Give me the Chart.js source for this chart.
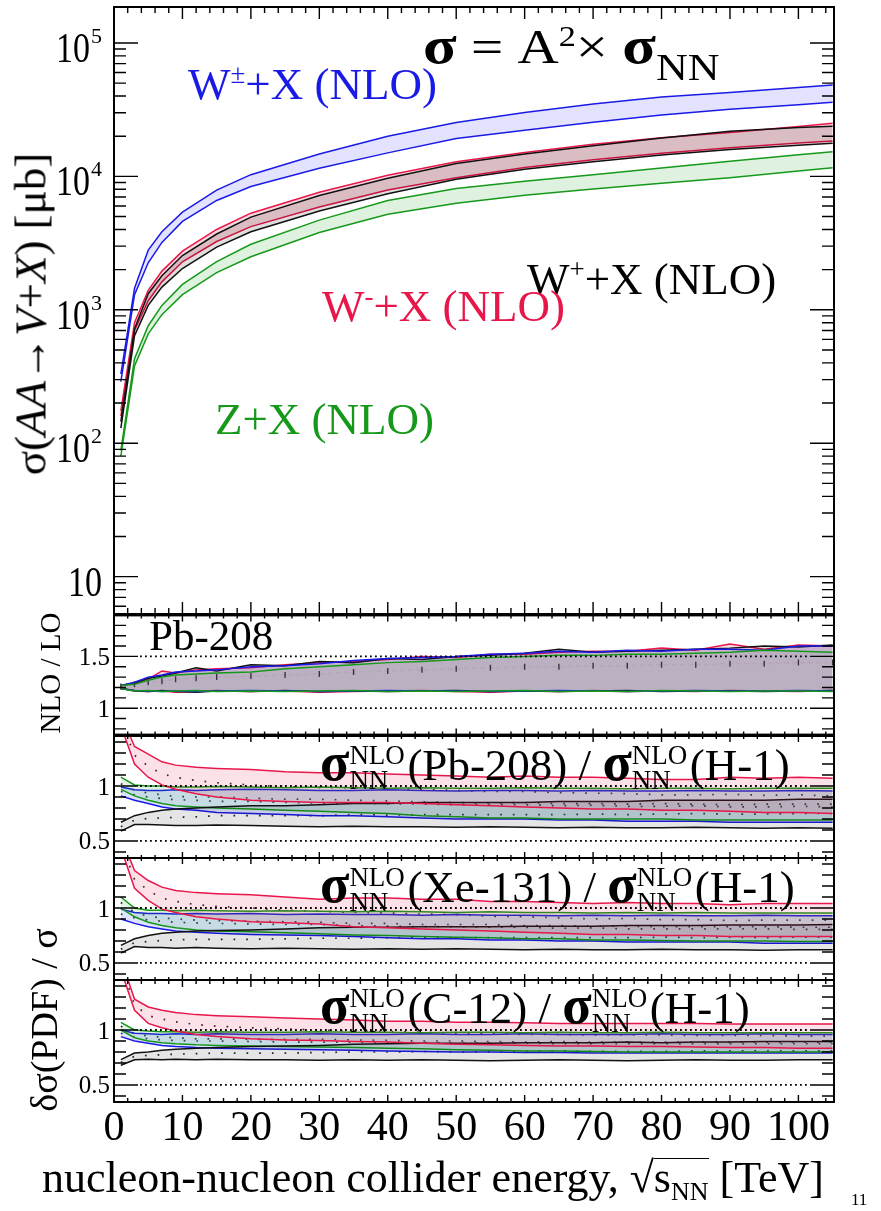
<!DOCTYPE html>
<html>
<head>
<meta charset="utf-8">
<script src="https://cdn.jsdelivr.net/npm/chart.js@4.4.1/dist/chart.umd.min.js"></script>
<style>
body{margin:0;background:#fff}
#wrap{position:relative;width:881px;height:1211px;overflow:hidden;background:#fff}
canvas{position:absolute;left:0}
.t{position:absolute;white-space:nowrap;line-height:1;font-family:'Liberation Serif','Times New Roman',serif;color:#000}
.sp{font-size:0.6em;position:relative;top:-0.6em}
.g{font-weight:bold;font-size:54px}
.rot{position:absolute;white-space:nowrap;line-height:1;font-family:'Liberation Serif',serif;transform:translate(-50%,-50%) rotate(-90deg)}
.ss{display:inline-block;position:relative;width:58px;height:10px}
.ss .u,.ss .d{position:absolute;left:0;font-size:27px;line-height:1}
.ss .u{bottom:11px}
.ss .d{bottom:-14px}
.ov{display:inline-block;border-top:1.6px solid #000;line-height:0.85}
</style>
</head>
<body>
<div id="wrap">
  <canvas id="cTop" width="881" height="618" style="top:0"></canvas>
  <canvas id="cNlo" width="881" height="130" style="top:610px"></canvas>
  <canvas id="cPb" width="881" height="130" style="top:732px"></canvas>
  <canvas id="cXe" width="881" height="130" style="top:854px"></canvas>
  <canvas id="cC" width="881" height="184" style="top:976px"></canvas>

  <div class="t" style="left:423px;top:20px;font-size:48px;transform:scaleX(1.19);transform-origin:0 0"><span class="g" style="font-size:52px">σ</span> = A<span class="sp">2</span>× <span class="g" style="font-size:52px">σ</span><span style="font-size:37px;position:relative;top:17px">NN</span></div>
  <div class="t" style="left:188px;top:62px;font-size:45px;color:#1a1ae6">W<span class="sp">±</span>+X (NLO)</div>
  <div class="t" style="left:527px;top:257px;font-size:45px;color:#000">W<span class="sp">+</span>+X (NLO)</div>
  <div class="t" style="left:322px;top:284px;font-size:45px;color:#e8174a">W<span class="sp">-</span>+X (NLO)</div>
  <div class="t" style="left:215px;top:397px;font-size:45px;color:#16991a">Z+X (NLO)</div>

  <div class="t" style="left:149px;top:614px;font-size:43px">Pb-208</div>
  <div class="t" style="left:320px;top:735px;font-size:45px"><span class="g">σ</span><span class="ss"><span class="u">NLO</span><span class="d">NN</span></span>(Pb-208) / <span class="g">σ</span><span class="ss"><span class="u">NLO</span><span class="d">NN</span></span>(H-1)</div>
  <div class="t" style="left:320px;top:857px;font-size:45px"><span class="g">σ</span><span class="ss"><span class="u">NLO</span><span class="d">NN</span></span>(Xe-131) / <span class="g">σ</span><span class="ss"><span class="u">NLO</span><span class="d">NN</span></span>(H-1)</div>
  <div class="t" style="left:320px;top:978px;font-size:45px"><span class="g">σ</span><span class="ss"><span class="u">NLO</span><span class="d">NN</span></span>(C-12) / <span class="g">σ</span><span class="ss"><span class="u">NLO</span><span class="d">NN</span></span>(H-1)</div>

  <div class="rot" style="left:31px;top:314px;font-size:45px">σ(<i>AA</i>→<i>V</i>+<i>X</i>) [μb]</div>
  <div class="rot" style="left:50px;top:673px;font-size:29px">NLO / LO</div>
  <div class="rot" style="left:44px;top:1020px;font-size:38px">δσ(PDF) / σ</div>

  <div class="t" style="left:42px;top:1156px;font-size:44px">nucleon-nucleon collider energy, √<span class="ov">s<span style="font-size:26px;position:relative;top:8px">NN</span></span> [TeV]</div>
  <div class="t" style="left:851px;top:1191px;font-size:17px">11</div>
</div>

<script>
// x grids (TeV)
const energyTop = [1, 3, 5, 7, 10, 15, 20, 30, 40, 50, 60, 70, 80, 90, 100, 105];
const energyRatio = [1, 3, 5, 7, 9, 12, 15, 20, 25, 30, 35, 40, 45, 50, 55, 60, 65, 70, 75, 80, 85, 90, 95, 100, 105];

// top panel: sigma(AA -> V+X) [ub], band edges
const wpmUp = [330, 1450, 2800, 3850, 5400, 7900, 10300, 14700, 20000, 25300, 30100, 34900, 39400, 42600, 46400, 48400];
const wpmLo = [290, 1300, 2250, 3200, 4600, 6600, 8400, 11500, 15000, 19200, 22200, 25500, 28900, 31900, 34500, 35900];
const wmUp = [175, 800, 1400, 1950, 2750, 4000, 5300, 7600, 10200, 12850, 15100, 17400, 19500, 21300, 23700, 25000];
const wmLo = [160, 700, 1170, 1620, 2290, 3250, 4200, 5900, 7900, 9770, 11650, 13300, 14900, 16400, 17800, 18400];
const wpUp = [145, 720, 1320, 1800, 2550, 3700, 4950, 7200, 9700, 12500, 14700, 17000, 19400, 21800, 23200, 23800];
const wpLo = [130, 640, 1080, 1480, 2040, 2950, 3850, 5500, 7400, 9500, 11300, 12900, 14450, 15900, 17100, 17700];
const zUp = [88, 430, 760, 1080, 1550, 2300, 3100, 4700, 6600, 8100, 9200, 10300, 11550, 13000, 14500, 15300];
const zLo = [80, 380, 660, 920, 1300, 1900, 2500, 3800, 5200, 6300, 7230, 8040, 8870, 9780, 10970, 11600];

// NLO / LO, Pb-208
const nloBlueUp = [1.22, 1.25, 1.30, 1.32, 1.35, 1.36, 1.37, 1.40, 1.41, 1.43, 1.46, 1.48, 1.49, 1.50, 1.52, 1.53, 1.55, 1.54, 1.56, 1.55, 1.57, 1.57, 1.56, 1.60, 1.60];
const nloBlueLo = [1.19, 1.17, 1.165, 1.16, 1.165, 1.16, 1.165, 1.17, 1.165, 1.16, 1.165, 1.17, 1.165, 1.165, 1.16, 1.165, 1.17, 1.165, 1.16, 1.165, 1.17, 1.165, 1.165, 1.17, 1.165];
const nloRedUp = [1.22, 1.24, 1.28, 1.36, 1.34, 1.37, 1.38, 1.39, 1.42, 1.44, 1.45, 1.47, 1.50, 1.49, 1.52, 1.52, 1.54, 1.55, 1.55, 1.58, 1.56, 1.62, 1.57, 1.61, 1.60];
const nloRedLo = [1.19, 1.17, 1.16, 1.165, 1.155, 1.16, 1.17, 1.16, 1.165, 1.155, 1.16, 1.165, 1.17, 1.16, 1.155, 1.165, 1.16, 1.17, 1.16, 1.165, 1.16, 1.17, 1.165, 1.16, 1.17];
const nloBlackUp = [1.22, 1.24, 1.29, 1.31, 1.34, 1.39, 1.36, 1.42, 1.41, 1.45, 1.44, 1.48, 1.47, 1.50, 1.51, 1.53, 1.57, 1.54, 1.55, 1.56, 1.57, 1.58, 1.60, 1.59, 1.61];
const nloBlackLo = [1.19, 1.165, 1.16, 1.17, 1.16, 1.155, 1.165, 1.16, 1.17, 1.16, 1.165, 1.16, 1.165, 1.17, 1.16, 1.165, 1.16, 1.165, 1.17, 1.16, 1.165, 1.165, 1.16, 1.165, 1.17];
const nloGreenUp = [1.22, 1.23, 1.27, 1.30, 1.32, 1.33, 1.34, 1.35, 1.38, 1.40, 1.42, 1.44, 1.45, 1.47, 1.49, 1.50, 1.51, 1.51, 1.52, 1.52, 1.53, 1.54, 1.56, 1.55, 1.54];
const nloGreenLo = [1.19, 1.165, 1.17, 1.16, 1.165, 1.17, 1.16, 1.165, 1.16, 1.165, 1.17, 1.16, 1.165, 1.16, 1.165, 1.17, 1.16, 1.165, 1.16, 1.17, 1.165, 1.16, 1.165, 1.165, 1.16];
const nloCentral = [1.21, 1.23, 1.25, 1.26, 1.28, 1.29, 1.30, 1.31, 1.32, 1.33, 1.35, 1.36, 1.37, 1.38, 1.39, 1.40, 1.40, 1.41, 1.41, 1.42, 1.42, 1.43, 1.43, 1.44, 1.44];

// sigma_NN(Pb-208) / sigma_NN(H-1): band edges and central values
const pbRedUp = [1.65, 1.36, 1.29, 1.22, 1.19, 1.17, 1.16, 1.15, 1.13, 1.12, 1.12, 1.11, 1.10, 1.09, 1.08, 1.09, 1.08, 1.08, 1.07, 1.06, 1.06, 1.08, 1.07, 1.08, 1.07];
const pbRedLo = [1.55, 1.20, 1.08, 1.01, 0.97, 0.93, 0.90, 0.87, 0.86, 0.85, 0.85, 0.85, 0.84, 0.83, 0.82, 0.81, 0.80, 0.79, 0.79, 0.78, 0.78, 0.77, 0.76, 0.76, 0.75];
const pbBlueUp = [0.99, 0.965, 0.96, 0.96, 0.965, 0.96, 0.965, 0.97, 0.965, 0.96, 0.96, 0.965, 0.96, 0.955, 0.96, 0.96, 0.955, 0.96, 0.955, 0.955, 0.96, 0.955, 0.955, 0.96, 0.955];
const pbBlueLo = [0.91, 0.87, 0.84, 0.81, 0.79, 0.78, 0.76, 0.75, 0.74, 0.73, 0.73, 0.72, 0.71, 0.70, 0.70, 0.70, 0.69, 0.69, 0.68, 0.68, 0.68, 0.67, 0.67, 0.67, 0.67];
const pbGreenUp = [1.08, 1.01, 1.00, 1.00, 0.99, 0.99, 0.995, 0.99, 0.985, 0.99, 0.985, 0.98, 0.985, 0.98, 0.98, 0.985, 0.98, 0.98, 0.975, 0.98, 0.98, 0.975, 0.98, 0.98, 0.98];
const pbGreenLo = [0.97, 0.91, 0.87, 0.84, 0.82, 0.81, 0.80, 0.79, 0.78, 0.77, 0.76, 0.75, 0.73, 0.72, 0.71, 0.71, 0.70, 0.70, 0.70, 0.70, 0.69, 0.69, 0.69, 0.69, 0.69];
const pbBlackUp = [0.67, 0.73, 0.76, 0.78, 0.79, 0.80, 0.81, 0.82, 0.82, 0.83, 0.84, 0.84, 0.85, 0.85, 0.85, 0.85, 0.86, 0.86, 0.86, 0.87, 0.87, 0.87, 0.87, 0.88, 0.88];
const pbBlackLo = [0.59, 0.65, 0.65, 0.645, 0.64, 0.64, 0.645, 0.64, 0.635, 0.63, 0.635, 0.63, 0.63, 0.625, 0.63, 0.625, 0.62, 0.625, 0.62, 0.62, 0.625, 0.62, 0.615, 0.62, 0.615];
const pbRedMid = [1.6, 1.28, 1.18, 1.11, 1.08, 1.05, 1.03, 1.01, 0.995, 0.985, 0.985, 0.98, 0.97, 0.96, 0.95, 0.95, 0.94, 0.935, 0.93, 0.92, 0.92, 0.925, 0.915, 0.92, 0.91];
const pbBlueMid = [0.95, 0.92, 0.90, 0.885, 0.875, 0.87, 0.86, 0.86, 0.85, 0.845, 0.845, 0.84, 0.835, 0.83, 0.83, 0.83, 0.82, 0.825, 0.815, 0.815, 0.82, 0.81, 0.81, 0.815, 0.81];
const pbGreenMid = [1.02, 0.96, 0.935, 0.92, 0.905, 0.90, 0.90, 0.89, 0.88, 0.88, 0.87, 0.865, 0.855, 0.85, 0.845, 0.85, 0.84, 0.84, 0.835, 0.84, 0.835, 0.83, 0.835, 0.835, 0.835];
const pbBlackMid = [0.63, 0.69, 0.705, 0.71, 0.715, 0.72, 0.73, 0.73, 0.73, 0.73, 0.74, 0.735, 0.74, 0.74, 0.74, 0.74, 0.74, 0.745, 0.74, 0.745, 0.75, 0.745, 0.745, 0.75, 0.75];

// sigma_NN(Xe-131) / sigma_NN(H-1)
const xeRedUp = [1.65, 1.34, 1.25, 1.19, 1.16, 1.14, 1.13, 1.12, 1.10, 1.08, 1.09, 1.09, 1.08, 1.08, 1.06, 1.06, 1.05, 1.04, 1.05, 1.04, 1.04, 1.03, 1.04, 1.04, 1.04];
const xeRedLo = [1.55, 1.18, 1.07, 0.99, 0.96, 0.92, 0.90, 0.875, 0.865, 0.855, 0.83, 0.82, 0.81, 0.80, 0.79, 0.78, 0.77, 0.76, 0.76, 0.75, 0.75, 0.74, 0.74, 0.74, 0.74];
const xeBlueUp = [0.99, 0.96, 0.95, 0.95, 0.945, 0.95, 0.945, 0.95, 0.94, 0.945, 0.94, 0.94, 0.935, 0.94, 0.935, 0.935, 0.93, 0.935, 0.93, 0.935, 0.93, 0.93, 0.935, 0.93, 0.93];
const xeBlueLo = [0.90, 0.86, 0.83, 0.81, 0.79, 0.78, 0.77, 0.76, 0.755, 0.75, 0.74, 0.73, 0.72, 0.72, 0.71, 0.71, 0.70, 0.70, 0.69, 0.69, 0.69, 0.69, 0.68, 0.68, 0.68];
const xeGreenUp = [1.10, 1.00, 0.98, 0.98, 0.975, 0.98, 0.975, 0.97, 0.975, 0.97, 0.965, 0.97, 0.965, 0.96, 0.965, 0.96, 0.96, 0.955, 0.96, 0.955, 0.96, 0.955, 0.955, 0.955, 0.955];
const xeGreenLo = [1.00, 0.92, 0.87, 0.84, 0.82, 0.80, 0.79, 0.785, 0.775, 0.765, 0.755, 0.75, 0.74, 0.735, 0.73, 0.72, 0.72, 0.71, 0.71, 0.705, 0.70, 0.70, 0.70, 0.695, 0.695];
const xeBlackUp = [0.66, 0.72, 0.75, 0.77, 0.78, 0.79, 0.795, 0.80, 0.81, 0.82, 0.825, 0.825, 0.83, 0.83, 0.83, 0.835, 0.835, 0.835, 0.84, 0.84, 0.84, 0.845, 0.845, 0.845, 0.85];
const xeBlackLo = [0.59, 0.65, 0.64, 0.64, 0.635, 0.64, 0.635, 0.63, 0.635, 0.63, 0.625, 0.63, 0.625, 0.63, 0.625, 0.62, 0.625, 0.62, 0.62, 0.625, 0.62, 0.62, 0.615, 0.62, 0.62];
const xeRedMid = [1.6, 1.26, 1.16, 1.09, 1.06, 1.03, 1.015, 1.0, 0.98, 0.97, 0.96, 0.955, 0.945, 0.94, 0.925, 0.92, 0.91, 0.90, 0.905, 0.895, 0.895, 0.885, 0.89, 0.89, 0.89];
const xeBlueMid = [0.945, 0.91, 0.89, 0.88, 0.87, 0.865, 0.86, 0.855, 0.85, 0.85, 0.84, 0.835, 0.83, 0.83, 0.825, 0.825, 0.815, 0.82, 0.81, 0.81, 0.81, 0.81, 0.81, 0.805, 0.805];
const xeGreenMid = [1.05, 0.96, 0.925, 0.91, 0.90, 0.89, 0.885, 0.88, 0.875, 0.87, 0.86, 0.86, 0.85, 0.85, 0.85, 0.84, 0.84, 0.835, 0.835, 0.83, 0.83, 0.83, 0.83, 0.825, 0.825];
const xeBlackMid = [0.625, 0.685, 0.695, 0.705, 0.71, 0.715, 0.715, 0.715, 0.72, 0.725, 0.725, 0.73, 0.73, 0.73, 0.73, 0.73, 0.73, 0.73, 0.73, 0.735, 0.73, 0.735, 0.73, 0.735, 0.735];

// sigma_NN(C-12) / sigma_NN(H-1)
const cRedUp = [1.65, 1.28, 1.21, 1.18, 1.16, 1.14, 1.13, 1.12, 1.11, 1.10, 1.09, 1.08, 1.08, 1.07, 1.07, 1.065, 1.06, 1.06, 1.06, 1.06, 1.06, 1.055, 1.055, 1.055, 1.055];
const cRedLo = [1.55, 1.18, 1.06, 1.02, 0.99, 0.96, 0.94, 0.92, 0.91, 0.905, 0.895, 0.89, 0.88, 0.87, 0.865, 0.86, 0.855, 0.855, 0.85, 0.85, 0.845, 0.84, 0.84, 0.835, 0.835];
const cBlueUp = [1.0, 0.97, 0.965, 0.96, 0.965, 0.96, 0.965, 0.96, 0.96, 0.965, 0.96, 0.96, 0.965, 0.96, 0.96, 0.965, 0.96, 0.96, 0.96, 0.965, 0.96, 0.96, 0.965, 0.96, 0.96];
const cBlueLo = [0.94, 0.90, 0.88, 0.86, 0.85, 0.84, 0.835, 0.83, 0.825, 0.82, 0.815, 0.81, 0.805, 0.80, 0.80, 0.795, 0.795, 0.79, 0.79, 0.79, 0.79, 0.79, 0.79, 0.79, 0.79];
const cGreenUp = [1.07, 1.00, 0.99, 0.985, 0.985, 0.98, 0.985, 0.98, 0.98, 0.985, 0.98, 0.98, 0.975, 0.98, 0.98, 0.975, 0.98, 0.975, 0.975, 0.98, 0.975, 0.975, 0.975, 0.975, 0.975];
const cGreenLo = [1.00, 0.93, 0.90, 0.885, 0.875, 0.865, 0.86, 0.855, 0.85, 0.845, 0.84, 0.835, 0.83, 0.82, 0.815, 0.81, 0.81, 0.805, 0.80, 0.80, 0.80, 0.80, 0.80, 0.80, 0.80];
const cBlackUp = [0.73, 0.79, 0.80, 0.815, 0.825, 0.835, 0.84, 0.85, 0.855, 0.86, 0.87, 0.875, 0.88, 0.88, 0.88, 0.885, 0.885, 0.885, 0.89, 0.885, 0.89, 0.89, 0.895, 0.895, 0.895];
const cBlackLo = [0.68, 0.73, 0.735, 0.73, 0.735, 0.73, 0.735, 0.73, 0.73, 0.725, 0.73, 0.725, 0.73, 0.725, 0.72, 0.725, 0.73, 0.725, 0.72, 0.725, 0.73, 0.725, 0.725, 0.73, 0.73];
const cRedMid = [1.6, 1.23, 1.13, 1.10, 1.075, 1.05, 1.035, 1.02, 1.01, 1.0, 0.99, 0.985, 0.98, 0.97, 0.965, 0.96, 0.96, 0.955, 0.955, 0.955, 0.95, 0.95, 0.95, 0.945, 0.945];
const cBlueMid = [0.97, 0.935, 0.92, 0.91, 0.905, 0.90, 0.90, 0.895, 0.89, 0.89, 0.89, 0.885, 0.885, 0.88, 0.88, 0.88, 0.875, 0.875, 0.875, 0.875, 0.875, 0.875, 0.875, 0.875, 0.875];
const cGreenMid = [1.035, 0.965, 0.945, 0.935, 0.93, 0.92, 0.92, 0.915, 0.915, 0.915, 0.91, 0.905, 0.90, 0.90, 0.895, 0.89, 0.895, 0.89, 0.89, 0.89, 0.89, 0.89, 0.89, 0.89, 0.89];
const cBlackMid = [0.705, 0.76, 0.77, 0.775, 0.78, 0.785, 0.79, 0.79, 0.79, 0.795, 0.80, 0.80, 0.805, 0.80, 0.80, 0.805, 0.81, 0.805, 0.805, 0.805, 0.81, 0.81, 0.81, 0.81, 0.81];

const BLUE = "#1a1ae6", RED = "#e8174a", BLACK = "#111111", GREEN = "#16991a";
const FILL = {
  blue: "rgba(40,40,255,0.13)",
  red: "rgba(232,23,74,0.17)",
  black: "rgba(0,0,0,0.13)",
  green: "rgba(22,160,26,0.14)"
};
const SERIF = "'Liberation Serif', 'Times New Roman', serif";

function pts(xs, ys){
  return xs.map((e, i) => ({x: e, y: ys[i]}));
}

function band(xs, lo, up, color, fill){
  return [
    {data: pts(xs, lo), borderColor: color, borderWidth: 1.5, pointRadius: 0, fill: false},
    {data: pts(xs, up), borderColor: color, borderWidth: 1.5, pointRadius: 0, fill: "-1", backgroundColor: fill}
  ];
}

function dotted(xs, ys){
  return {data: pts(xs, ys), borderColor: "#2a2a2a", borderWidth: 1.7, borderDash: [1.7, 11],
    pointRadius: 0, fill: false};
}

// ROOT-like frame: inward ticks on all four sides, dotted guides, y labels
const rootFrame = {
  id: "rootFrame",
  afterDatasetsDraw(chart, args, o){
    const ctx = chart.ctx, a = chart.chartArea;
    const xs = chart.scales.x, ys = chart.scales.y;
    ctx.save();
    ctx.strokeStyle = "#000";
    ctx.fillStyle = "#000";

    if(o.refLines){
      ctx.lineWidth = 1.8;
      ctx.setLineDash([1.8, 3.2]);
      o.refLines.forEach(v => {
        const py = ys.getPixelForValue(v);
        ctx.beginPath();
        ctx.moveTo(a.left + 26, py);
        ctx.lineTo(a.right - 26, py);
        ctx.stroke();
      });
      ctx.setLineDash([]);
    }

    const labels = [];
    ctx.lineWidth = 1.4;
    ctx.beginPath();
    xs.ticks.forEach(t => {
      const v = Math.round(t.value * 1000) / 1000;
      if(v <= 0 || v >= xs.max) return;
      const px = xs.getPixelForValue(v);
      const len = v % 10 === 0 ? o.xMajor : o.xMinor;
      ctx.moveTo(px, a.top); ctx.lineTo(px, a.top + len);
      ctx.moveTo(px, a.bottom); ctx.lineTo(px, a.bottom - len);
    });
    ys.ticks.forEach(t => {
      const v = t.value;
      let major, text;
      if(o.yKind === "log"){
        const e = Math.floor(Math.log10(v) + 1e-9);
        const m = v / Math.pow(10, e);
        if(Math.abs(m - Math.round(m)) > 1e-6) return;
        major = Math.round(m) === 1;
        text = e;
      } else {
        const k = Math.round(v * 10);
        if(Math.abs(v * 10 - k) > 1e-6) return;
        major = k % 5 === 0;
        text = k % 10 === 0 ? String(k / 10) : (k / 10).toFixed(1);
      }
      const py = ys.getPixelForValue(v);
      if(py < a.top + 1 || py > a.bottom - 1) return;
      const len = major ? 24 : 12;
      ctx.moveTo(a.left, py); ctx.lineTo(a.left + len, py);
      ctx.moveTo(a.right, py); ctx.lineTo(a.right - len, py);
      if(major) labels.push({py, text});
    });
    ctx.stroke();

    ctx.lineWidth = 2;
    ctx.strokeRect(a.left, a.top, a.right - a.left, a.bottom - a.top);

    ctx.textAlign = "right";
    ctx.textBaseline = "alphabetic";
    labels.forEach(l => {
      if(o.yKind === "log"){
        const xr = 102;
        let x10 = xr;
        if(l.text !== 1){
          ctx.font = "22px " + SERIF;
          ctx.fillText(String(l.text), xr, l.py);
          x10 = xr - ctx.measureText(String(l.text)).width - 1;
        }
        ctx.save();
        ctx.translate(x10, l.py + 19);
        ctx.scale(1, 1.25);
        ctx.font = "34px " + SERIF;
        ctx.fillText("10", 0, 0);
        ctx.restore();
      } else {
        ctx.font = "25px " + SERIF;
        ctx.fillText(l.text, 110, l.py + 8.5);
      }
    });
    ctx.restore();
  }
};

function makePanel(id, datasets, yScale, frame, padTop, padBottom, showX){
  const xScale = {
    type: "linear", min: 0, max: 105.2, display: showX,
    grid: {display: false, drawTicks: false}, border: {display: false},
    ticks: {stepSize: 2, includeBounds: false, autoSkip: false}
  };
  if(showX){
    xScale.ticks = {
      stepSize: 2, includeBounds: false, autoSkip: false, maxRotation: 0, minRotation: 0,
      padding: 2, color: "#000",
      font: {family: SERIF, size: 42},
      callback: v => (Math.round(v) % 10 === 0 ? String(Math.round(v)) : "")
    };
    xScale.afterFit = s => { s.height = 58; };
  }
  return new Chart(document.getElementById(id), {
    type: "line",
    data: {datasets},
    options: {
      responsive: false,
      animation: false,
      layout: {padding: {left: 114, right: 47, top: padTop, bottom: padBottom}},
      elements: {line: {tension: 0}},
      plugins: {legend: {display: false}, tooltip: {enabled: false}, rootFrame: frame},
      scales: {x: xScale, y: yScale}
    },
    plugins: [rootFrame]
  });
}

function ratioY(){
  return {type: "linear", min: 0.345, max: 1.455, display: false,
    ticks: {stepSize: 0.1, includeBounds: false, autoSkip: false}};
}

// top panel
makePanel("cTop", [
  ...band(energyTop, wpmLo, wpmUp, BLUE, FILL.blue),
  ...band(energyTop, wpLo, wpUp, BLACK, FILL.black),
  ...band(energyTop, wmLo, wmUp, RED, FILL.red),
  ...band(energyTop, zLo, zUp, GREEN, FILL.green)
], {type: "logarithmic", min: 5.25, max: 186000, display: false, ticks: {autoSkip: false}},
{yKind: "log", xMajor: 12, xMinor: 6}, 7, 4, false);

// NLO / LO
makePanel("cNlo", [
  ...band(energyRatio, nloGreenLo, nloGreenUp, GREEN, "rgba(22,160,26,0.08)"),
  ...band(energyRatio, nloBlueLo, nloBlueUp, BLUE, "rgba(40,40,255,0.11)"),
  ...band(energyRatio, nloBlackLo, nloBlackUp, BLACK, "rgba(0,0,0,0.12)"),
  ...band(energyRatio, nloRedLo, nloRedUp, RED, "rgba(232,23,74,0.14)"),
  {data: pts(energyRatio, nloCentral), borderColor: "#fbf2f7", borderWidth: 2, borderDash: [5, 3],
   pointStyle: "line", pointRotation: 90, pointRadius: 3, pointBorderColor: "#333", pointBorderWidth: 1.4, fill: false}
], {type: "linear", min: 0.745, max: 1.896, display: false, ticks: {stepSize: 0.1, includeBounds: false, autoSkip: false}},
{yKind: "lin", xMajor: 6, xMinor: 3, refLines: [1, 1.5]}, 4, 4, false);

function ratioSets(r, k, g, b){
  return [
    ...band(energyRatio, r[0], r[1], RED, "rgba(232,23,74,0.13)"),
    ...band(energyRatio, k[0], k[1], BLACK, "rgba(0,0,0,0.1)"),
    ...band(energyRatio, g[0], g[1], GREEN, "rgba(22,160,26,0.12)"),
    ...band(energyRatio, b[0], b[1], BLUE, "rgba(60,90,255,0.17)"),
    dotted(energyRatio, r[2]), dotted(energyRatio, k[2]),
    dotted(energyRatio, g[2]), dotted(energyRatio, b[2])
  ];
}

makePanel("cPb", ratioSets(
    [pbRedLo, pbRedUp, pbRedMid], [pbBlackLo, pbBlackUp, pbBlackMid],
    [pbGreenLo, pbGreenUp, pbGreenMid], [pbBlueLo, pbBlueUp, pbBlueMid]),
  ratioY(), {yKind: "lin", xMajor: 6, xMinor: 3, refLines: [0.5, 1]}, 4, 4, false);

makePanel("cXe", ratioSets(
    [xeRedLo, xeRedUp, xeRedMid], [xeBlackLo, xeBlackUp, xeBlackMid],
    [xeGreenLo, xeGreenUp, xeGreenMid], [xeBlueLo, xeBlueUp, xeBlueMid]),
  ratioY(), {yKind: "lin", xMajor: 6, xMinor: 3, refLines: [0.5, 1]}, 4, 4, false);

makePanel("cC", ratioSets(
    [cRedLo, cRedUp, cRedMid], [cBlackLo, cBlackUp, cBlackMid],
    [cGreenLo, cGreenUp, cGreenMid], [cBlueLo, cBlueUp, cBlueMid]),
  ratioY(), {yKind: "lin", xMajor: 7, xMinor: 4, refLines: [0.5, 1]}, 4, 0, true);
</script>
</body>
</html>
